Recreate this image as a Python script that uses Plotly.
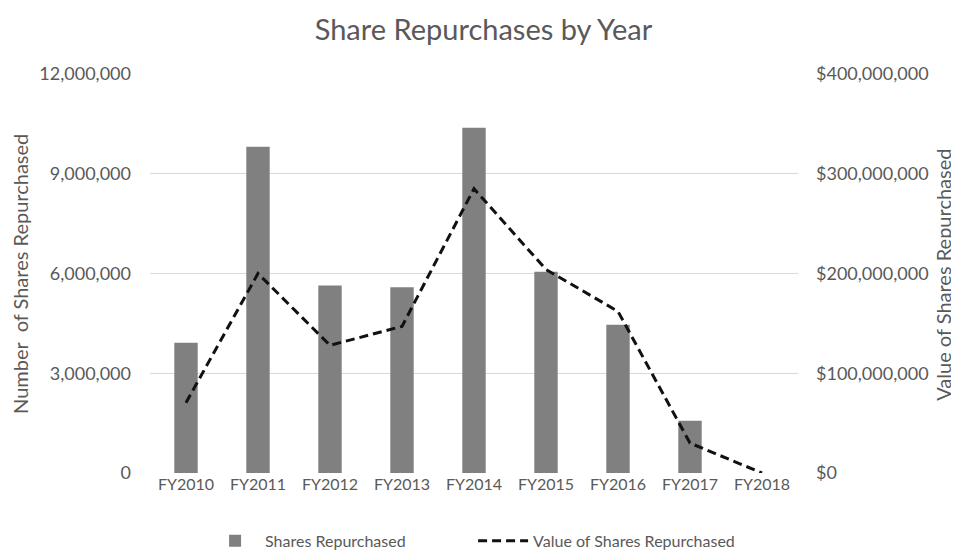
import plotly.graph_objects as go

years = ["FY2010", "FY2011", "FY2012", "FY2013", "FY2014",
         "FY2015", "FY2016", "FY2017", "FY2018"]
shares_repurchased = [3920000, 9810000, 5640000, 5590000, 10380000,
                      6050000, 4460000, 1570000, 0]
value_repurchased = [70500000, 200000000, 128000000, 147000000, 285000000,
                     204000000, 162000000, 30000000, 0]

grey_text = "#595959"
font_family = "Lato, 'Open Sans', sans-serif"

fig = go.Figure()

fig.add_trace(go.Bar(
    x=years, y=shares_repurchased, name="Shares Repurchased",
    marker=dict(color="#808080", line=dict(width=0)),
    yaxis="y",
))

fig.add_trace(go.Scatter(
    x=years, y=value_repurchased, name="Value of Shares Repurchased",
    mode="lines", line=dict(color="#111111", width=3, dash="9px,5px"),
    yaxis="y2",
))

# page body adds ~8px margin, so the figure is a bit smaller than the window
fig.update_layout(
    width=951, height=544,
    margin=dict(l=142, r=161, t=66, b=79, autoexpand=False),
    paper_bgcolor="white", plot_bgcolor="white",
    font=dict(family=font_family, color=grey_text, size=16),
    title=dict(text="Share Repurchases by Year", x=0.5, xanchor="center",
               y=0.9596, yanchor="middle",
               font=dict(size=29, color=grey_text)),
    bargap=0.675,
    showlegend=True,
    legend=dict(orientation="h", x=0.085, xanchor="left", y=-0.17,
                yanchor="middle", itemwidth=50, entrywidth=203,
                font=dict(size=16, color=grey_text)),
    xaxis=dict(showgrid=False, showline=False, ticks="", automargin=False,
               tickfont=dict(size=16, color=grey_text)),
    yaxis=dict(range=[0, 12000000], dtick=3000000, tickformat=",d",
               gridcolor="#d9d9d9", gridwidth=1, zeroline=False,
               showline=False, ticks="", automargin=False,
               ticklabelstandoff=18,
               tickfont=dict(size=18, color=grey_text)),
    yaxis2=dict(range=[0, 400000000], dtick=100000000, tickformat=",d",
                tickprefix="$", overlaying="y", side="right",
                showgrid=False, zeroline=False, showline=False,
                automargin=False, ticklabelstandoff=17,
                tickfont=dict(size=18, color=grey_text)),
    annotations=[
        dict(text="Number  of Shares Repurchased", textangle=-90,
             xref="paper", yref="paper", x=-0.2006, y=0.499,
             xanchor="center", yanchor="middle", showarrow=False,
             font=dict(size=20, color=grey_text)),
        dict(text="Value of Shares Repurchased", textangle=-90,
             xref="paper", yref="paper", x=1.2238, y=0.497,
             xanchor="center", yanchor="middle", showarrow=False,
             font=dict(size=20, color=grey_text)),
    ],
)

fig.write_html("out.html")
